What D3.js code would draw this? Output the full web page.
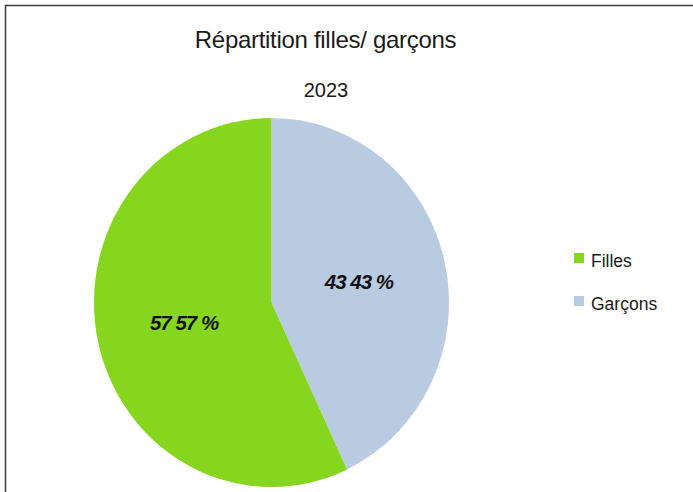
<!DOCTYPE html>
<html>
<head>
<meta charset="utf-8">
<script src="https://cdn.jsdelivr.net/npm/d3@7"></script>
<style>
  body { margin: 0; background: #fff; }
  svg { display: block; font-family: "Liberation Sans", Arial, sans-serif; }
</style>
</head>
<body>
<div id="chart"></div>
<script>
// Data
const categories = ["Garçons", "Filles"];
const values = [43, 57];
const colors = ["#b9cbe1", "#86d51f"];
const legendOrder = ["Filles", "Garçons"];
const title = "Répartition filles/ garçons";
const subtitle = "2023";

const W = 693, H = 492;

const svg = d3.select("#chart")
  .append("svg")
  .attr("width", W)
  .attr("height", H);

// frame
svg.append("rect")
  .attr("x", 5.5).attr("y", 5.5)
  .attr("width", 720).attr("height", 520)
  .attr("fill", "none")
  .attr("stroke", "#3c3c3c")
  .attr("stroke-width", 1.5);

// titles
svg.append("text")
  .attr("x", 325.5).attr("y", 48)
  .attr("text-anchor", "middle")
  .attr("font-size", 24)
  .attr("letter-spacing", -0.3)
  .attr("fill", "#1a1a1a")
  .text(title);

svg.append("text")
  .attr("x", 326).attr("y", 97)
  .attr("text-anchor", "middle")
  .attr("font-size", 20)
  .attr("fill", "#1a1a1a")
  .text(subtitle);

// pie (slightly taller than wide, like the source)
const cx = 271.5, cy = 302.5, rx = 177.5, ry = 184.5;
const color = d3.scaleOrdinal().domain(categories).range(colors);

const pie = d3.pie().sort(null).value(d => d.v);
const arcs = pie(categories.map((c, i) => ({ c, v: values[i] })));
const arc = d3.arc().innerRadius(0).outerRadius(rx);

const g = svg.append("g")
  .attr("transform", `translate(${cx},${cy}) scale(1,${ry / rx})`);

g.selectAll("path")
  .data(arcs)
  .enter()
  .append("path")
    .attr("d", arc)
    .attr("fill", d => color(d.data.c));

// labels
const labelArc = d3.arc().innerRadius(rx * 0.505).outerRadius(rx * 0.505);
svg.append("g")
  .attr("transform", `translate(${cx},${cy})`)
  .selectAll("text")
  .data(arcs)
  .enter()
  .append("text")
    .attr("x", d => labelArc.centroid(d)[0])
    .attr("y", d => labelArc.centroid(d)[1] * ry / rx + 7)
    .attr("text-anchor", "middle")
    .attr("font-size", 20.5)
    .attr("font-weight", "bold")
    .attr("font-style", "italic")
    .attr("letter-spacing", -1)
    .attr("fill", "#111")
    .text(d => `${d.data.v} ${d.data.v} %`);

// legend
const legend = svg.append("g")
  .selectAll("g")
  .data(legendOrder)
  .enter()
  .append("g")
    .attr("transform", (d, i) => `translate(574,${253 + i * 43})`);

legend.append("rect")
  .attr("width", 10).attr("height", 10)
  .attr("fill", d => color(d));

legend.append("text")
  .attr("x", 17).attr("y", 14)
  .attr("font-size", 17.5)
  .attr("fill", "#1a1a1a")
  .text(d => d);
</script>
</body>
</html>
